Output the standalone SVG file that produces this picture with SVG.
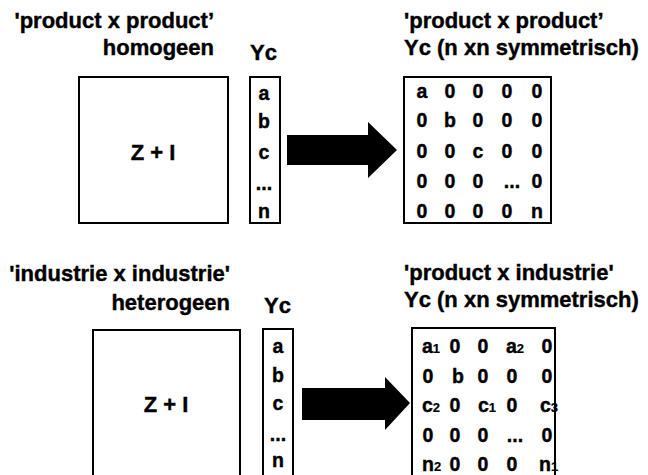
<svg xmlns="http://www.w3.org/2000/svg" width="648" height="475" viewBox="0 0 648 475">
  <style>
    text { font-family: "Liberation Sans", Arial, sans-serif; font-weight: bold; fill: #000; stroke: #000; stroke-width: 0.4; }
    .title { font-size: 22px; }
    .r { text-anchor: end; }
    .m { text-anchor: middle; }
    .cell { font-size: 19.5px; }
    .sub { font-size: 13px; stroke-width: 0.2; }
    .zi { font-size: 22px; text-anchor: middle; }
    .box { fill: #fff; stroke: #000; stroke-width: 2; }
    .arrow { fill: #000; stroke: none; }
  </style>
  <rect width="648" height="475" fill="#fff"/>

  <!-- upper row: product x product, homogeneous -->
  <g id="title-pp-left">
    <text class="title r" x="214" y="28">'product x product’</text>
    <text class="title r" x="214" y="55">homogeen</text>
  </g>
  <g id="matrix-zi-top">
    <rect class="box" x="79" y="77" width="149" height="146"/>
    <text class="zi" x="153" y="160">Z + I</text>
  </g>
  <g id="vector-yc-top">
    <text class="title" x="250" y="60">Yc</text>
    <rect class="box" x="250" y="77" width="30" height="146"/>
    <text class="cell m" x="264" y="100">a</text>
    <text class="cell m" x="264" y="128">b</text>
    <text class="cell m" x="264" y="159">c</text>
    <text class="cell m" x="264" y="190">...</text>
    <text class="cell m" x="264" y="218">n</text>
  </g>
  <g id="title-pp-right">
    <text class="title" x="404" y="28">'product x product’</text>
    <text class="title" x="404" y="55">Yc (n xn symmetrisch)</text>
  </g>
  <g id="matrix-diag-top">
    <rect class="box" x="404" y="77" width="147" height="146"/>
    <text class="cell m" x="422" y="98">a</text><text class="cell m" x="450" y="98">0</text><text class="cell m" x="478" y="98">0</text><text class="cell m" x="507" y="98">0</text><text class="cell m" x="537" y="98">0</text>
    <text class="cell m" x="422" y="127">0</text><text class="cell m" x="450" y="127">b</text><text class="cell m" x="478" y="127">0</text><text class="cell m" x="507" y="127">0</text><text class="cell m" x="537" y="127">0</text>
    <text class="cell m" x="422" y="158">0</text><text class="cell m" x="450" y="158">0</text><text class="cell m" x="478" y="158">c</text><text class="cell m" x="507" y="158">0</text><text class="cell m" x="537" y="158">0</text>
    <text class="cell m" x="422" y="188">0</text><text class="cell m" x="450" y="188">0</text><text class="cell m" x="478" y="188">0</text><text class="cell m" x="512" y="188">...</text><text class="cell m" x="537" y="188">0</text>
    <text class="cell m" x="422" y="218">0</text><text class="cell m" x="450" y="218">0</text><text class="cell m" x="478" y="218">0</text><text class="cell m" x="507" y="218">0</text><text class="cell m" x="537" y="218">n</text>
  </g>

  <!-- lower row: industry x industry, heterogeneous -->
  <g id="title-ii-left">
    <text class="title r" x="230" y="281">'industrie x industrie'</text>
    <text class="title r" x="230" y="310">heterogeen</text>
  </g>
  <g id="matrix-zi-bottom">
    <rect class="box" x="93" y="330" width="147" height="160"/>
    <text class="zi" x="166" y="412">Z + I</text>
  </g>
  <g id="vector-yc-bottom">
    <text class="title" x="264" y="313">Yc</text>
    <rect class="box" x="263" y="329" width="30" height="160"/>
    <text class="cell m" x="278" y="353">a</text>
    <text class="cell m" x="278" y="382">b</text>
    <text class="cell m" x="278" y="410">c</text>
    <text class="cell m" x="278" y="441">...</text>
    <text class="cell m" x="278" y="467">n</text>
  </g>
  <g id="title-pi-right">
    <text class="title" x="404" y="280">'product x industrie'</text>
    <text class="title" x="404" y="307">Yc (n xn symmetrisch)</text>
  </g>
  <g id="matrix-offdiag-bottom">
    <rect class="box" x="412" y="328" width="143" height="160"/>
    <text class="cell" x="422" y="353">a<tspan class="sub">1</tspan></text><text class="cell m" x="455" y="353">0</text><text class="cell m" x="483" y="353">0</text><text class="cell" x="506" y="353">a<tspan class="sub">2</tspan></text><text class="cell m" x="547" y="353">0</text>
    <text class="cell m" x="428" y="383">0</text><text class="cell m" x="458" y="383">b</text><text class="cell m" x="483" y="383">0</text><text class="cell m" x="512" y="383">0</text><text class="cell m" x="547" y="383">0</text>
    <text class="cell" x="422" y="412">c<tspan class="sub">2</tspan></text><text class="cell m" x="455" y="412">0</text><text class="cell" x="478" y="412">c<tspan class="sub">1</tspan></text><text class="cell m" x="512" y="412">0</text><text class="cell" x="540" y="412">c<tspan class="sub">3</tspan></text>
    <text class="cell m" x="428" y="442">0</text><text class="cell m" x="455" y="442">0</text><text class="cell m" x="483" y="442">0</text><text class="cell m" x="515" y="442">...</text><text class="cell m" x="547" y="442">0</text>
    <text class="cell" x="422" y="471">n<tspan class="sub">2</tspan></text><text class="cell m" x="455" y="471">0</text><text class="cell m" x="483" y="471">0</text><text class="cell m" x="512" y="471">0</text><text class="cell" x="539" y="471">n<tspan class="sub">1</tspan></text>
  </g>

  <!-- block arrows -->
  <g id="connectors">
    <polygon class="arrow" points="287,135 368,135 368,122 397,150 368,178 368,165 287,165"/>
    <polygon class="arrow" points="302,388 385,388 385,377 410,403 385,430 385,420 302,420"/>
  </g>
</svg>
